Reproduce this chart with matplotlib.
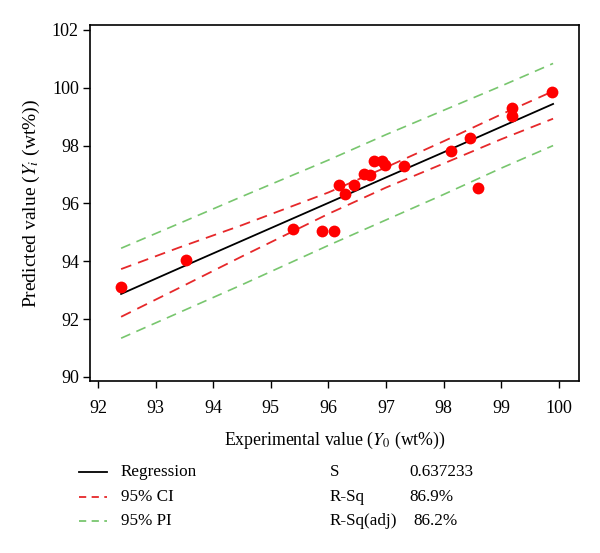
import matplotlib
matplotlib.use("Agg")
import matplotlib.pyplot as plt
from matplotlib.lines import Line2D

plt.rcParams['font.family'] = ['Liberation Serif', 'DejaVu Serif']
plt.rcParams['mathtext.fontset'] = 'stix'

# data points (experimental vs predicted)
exp_vals = [92.4, 93.53, 95.39, 95.88, 96.09, 96.19, 96.28, 96.44, 96.62, 96.72,
            96.79, 96.93, 96.98, 97.31, 98.12, 98.45, 98.59, 99.19, 99.19, 99.88]
pred_vals = [93.11, 94.05, 95.11, 95.06, 95.06, 96.64, 96.31, 96.64, 97.02, 96.97,
             97.48, 97.48, 97.32, 97.30, 97.80, 98.27, 96.55, 99.31, 99.01, 99.86]

# fitted line and bands read at a few x positions
x_band = [92.4, 93.4, 94.5, 96.0, 97.0, 98.0, 99.0, 99.9]
reg = [92.87, 93.75, 94.71, 96.02, 96.90, 97.77, 98.65, 99.44]
ci_up = [93.73, 94.47, 95.25, 96.38, 97.25, 98.15, 99.08, 99.88]
ci_lo = [92.08, 93.07, 94.17, 95.64, 96.55, 97.38, 98.22, 98.93]
pi_up = [94.45, 95.30, 96.24, 97.50, 98.38, 99.22, 100.06, 100.84]
pi_lo = [91.34, 92.22, 93.19, 94.55, 95.43, 96.31, 97.22, 98.00]

x_ticks = [92, 93, 94, 95, 96, 97, 98, 99, 100]
y_ticks = [90, 92, 94, 96, 98, 100, 102]

stats_names = ['S', 'R-Sq', 'R-Sq(adj)']
stats_vals = ['0.637233', '86.9%', '86.2%']

RED = '#e6282a'
GREEN = '#78c66e'
W, H = 600, 553

fig = plt.figure(figsize=(W / 100, H / 100), dpi=100)
ax = fig.add_axes([90 / W, 1 - 381 / H, (579 - 90) / W, (381 - 25) / H])

dash = (0, (6, 4))
ax.plot(x_band, pi_up, color=GREEN, lw=1.2, linestyle=dash)
ax.plot(x_band, pi_lo, color=GREEN, lw=1.2, linestyle=dash)
ax.plot(x_band, ci_up, color=RED, lw=1.3, linestyle=dash)
ax.plot(x_band, ci_lo, color=RED, lw=1.3, linestyle=dash)
ax.plot(x_band, reg, color='black', lw=1.3)
ax.plot(exp_vals, pred_vals, 'o', color='#ff0000', markersize=8.5, markeredgewidth=0)

ax.set_xlim(91.86, 100.35)
ax.set_ylim(89.86, 102.17)
ax.set_xticks(x_ticks)
ax.set_yticks(y_ticks)
ax.tick_params(direction='out', length=5, width=1, labelsize=13)
ax.tick_params(axis='x', pad=9)
ax.tick_params(axis='y', pad=3)
for s in ax.spines.values():
    s.set_linewidth(1.2)

ax.set_xlabel(r'Experimental value ($Y_0$ (wt%))', fontsize=12.8, labelpad=9)
ax.set_ylabel(r'Predicted value ($Y_i$ (wt%))', fontsize=14, labelpad=7)

def fx(px):
    return px / W

def fy(py):
    return 1 - py / H

rows = [('Regression', 'black', '-'), ('95% CI', RED, (0, (4, 3))), ('95% PI', GREEN, (0, (4, 3)))]
row_y = [472, 497, 521]
for (lab, col, ls), yy in zip(rows, row_y):
    fig.add_artist(Line2D([fx(79), fx(107)], [fy(yy), fy(yy)], color=col, lw=1.3, linestyle=ls))
    fig.text(fx(121), fy(yy), lab, fontsize=12.3, va='center', ha='left')

val_x = [409, 409, 413]
for name, val, yy, vx in zip(stats_names, stats_vals, row_y, val_x):
    fig.text(fx(330), fy(yy), name, fontsize=12.3, va='center', ha='left')
    fig.text(fx(vx), fy(yy), val, fontsize=12.3, va='center', ha='left')

fig.savefig('out.png', dpi=100)
